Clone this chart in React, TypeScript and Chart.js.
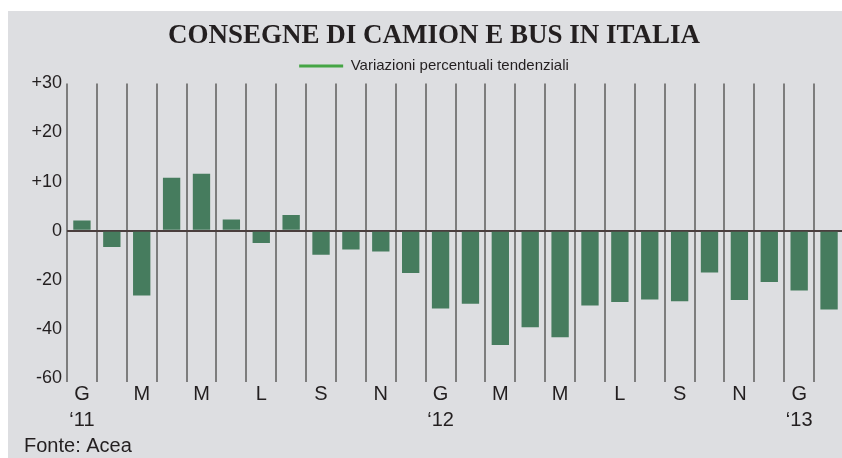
import React, { useEffect, useRef } from "react";
import { Chart, registerables } from "chart.js";

Chart.register(...registerables);

// Months Jan 2011 – Feb 2013 (Italian initials)
const months = ["G","F","M","A","M","G","L","A","S","O","N","D","G","F","M","A","M","G","L","A","S","O","N","D","G","F"];
const yearLabels: Record<number, string> = { 0: "\u201811", 12: "\u201812", 24: "\u201813" };
// Year-on-year % change, as read on the printed (non-uniform) axis
const variazioni = [2.1, -6.6, -26.4, 10.8, 11.6, 2.3, -5.0, 3.2, -9.8, -7.7, -8.5, -17.2, -31.7, -29.8, -46.6, -39.3, -43.4, -30.5, -29.0, -28.0, -28.7, -17.0, -28.2, -20.9, -24.4, -32.1];
// Printed tick labels: positive side steps by 10, negative side by 20
const yTickLabels = ["-60", "-40", "-20", "0", "+10", "+20", "+30"];
const negScale = 2; // negative half of the printed axis is compressed by 2

const toAxis = (v: number) => (v < 0 ? v / negScale : v);

const TEXT = "#231f20";
const SANS = '"Liberation Sans", Arial, Helvetica, sans-serif';

export default function App() {
  const ref = useRef<HTMLCanvasElement>(null);
  useEffect(() => {
    if (!ref.current) return;
    const chart = new Chart(ref.current, {
      type: "bar",
      data: {
        labels: months,
        datasets: [
          {
            label: "Variazioni percentuali tendenziali",
            data: variazioni.map(toAxis),
            backgroundColor: "#467c5e",
            borderWidth: 0,
            barPercentage: 0.58,
            categoryPercentage: 1,
          },
        ],
      },
      options: {
        animation: false,
        responsive: true,
        maintainAspectRatio: false,
        layout: { padding: { left: 16, right: 0, top: 0, bottom: 0 } },
        plugins: {
          tooltip: { enabled: false },
          title: {
            display: true,
            text: "CONSEGNE DI CAMION E BUS IN ITALIA",
            color: TEXT,
            font: { family: '"Liberation Serif", "Times New Roman", serif', size: 27, weight: "bold" },
            padding: { top: 9, bottom: 0 },
          },
          subtitle: {
            display: true,
            position: "bottom",
            align: "start",
            text: "Fonte: Acea",
            color: TEXT,
            font: { family: SANS, size: 20, weight: "normal" },
            padding: { top: 0, bottom: 0 },
          },
          legend: {
            display: true,
            position: "top",
            labels: {
              color: TEXT,
              font: { family: SANS, size: 15 },
              padding: 6,
              boxWidth: 44,
              boxHeight: 3,
              generateLabels: () => [
                {
                  text: "Variazioni percentuali tendenziali",
                  fillStyle: "#45a545",
                  strokeStyle: "#45a545",
                  lineWidth: 0,
                  hidden: false,
                  datasetIndex: 0,
                  fontColor: TEXT,
                },
              ],
            },
          },
        },
        scales: {
          x: {
            offset: true,
            afterFit: (s: any) => { s.height = 56; },
            grid: {
              offset: true,
              color: "#7d7d7d",
              lineWidth: 2,
              drawTicks: true,
              tickLength: 4,
              tickColor: "#7d7d7d",
            },
            border: { display: false },
            ticks: {
              autoSkip: false,
              maxRotation: 0,
              padding: -1,
              color: TEXT,
              font: { family: SANS, size: 20, lineHeight: 26 / 20 },
              callback: (_v: any, i: number) => {
                if (i % 2 !== 0) return "";
                const y = yearLabels[i];
                return y ? [months[i], y] : months[i];
              },
            },
          },
          y: {
            min: -30,
            max: 30,
            afterFit: (s: any) => { s.width = 43; },
            grid: {
              drawTicks: false,
              lineWidth: 2,
              color: (c: any) => (c.tick && c.tick.value === 0 ? "#4a3e3e" : "rgba(0,0,0,0)"),
            },
            border: { display: false },
            ticks: {
              stepSize: 10,
              padding: 5,
              color: TEXT,
              font: { family: SANS, size: 18 },
              callback: (v: any) => {
                const idx = Math.round(Number(v) / 10) + 3;
                return yTickLabels[idx] ?? "";
              },
            },
          },
        },
      },
    });
    return () => chart.destroy();
  }, []);

  return (
    <div style={{ position: "fixed", left: 0, top: 0, width: 842, height: 458, overflow: "hidden", background: "#ffffff" }}>
      <div style={{ position: "absolute", left: 8, top: 11, right: 0, bottom: 0, background: "#dddee1" }} />
      <div style={{ position: "absolute", left: 8, top: 11, width: 836, height: 447 }}>
        <canvas ref={ref} />
      </div>
    </div>
  );
}
